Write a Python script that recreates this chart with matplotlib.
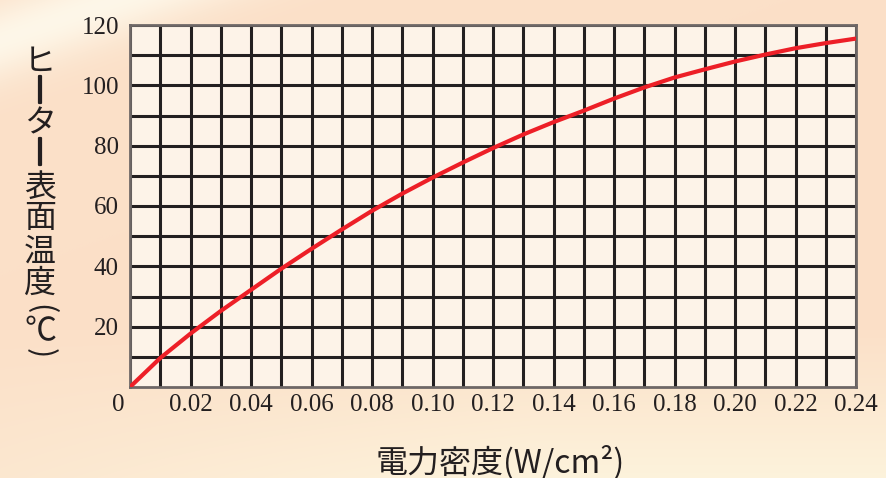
import numpy as np
import matplotlib.pyplot as plt
import matplotlib.patheffects as pe
from matplotlib.transforms import ScaledTranslation

# heater surface temperature vs. power density
power = [0.00, 0.01, 0.02, 0.03, 0.04, 0.05, 0.06, 0.07, 0.08, 0.09, 0.10, 0.11, 0.12,
         0.13, 0.14, 0.15, 0.16, 0.17, 0.18, 0.19, 0.20, 0.21, 0.22, 0.23, 0.24]
temp = [0, 9.6, 17.7, 25.2, 32.2, 39.2, 45.8, 52.2, 58.4, 64.1, 69.4, 74.4, 79.2,
        83.7, 87.8, 91.6, 95.6, 99.3, 102.6, 105.3, 107.9, 110.2, 112.3, 114.0, 115.5]

x_major = [0, 0.02, 0.04, 0.06, 0.08, 0.10, 0.12, 0.14, 0.16, 0.18, 0.20, 0.22, 0.24]
x_labels = ['0', '0.02', '0.04', '0.06', '0.08', '0.10', '0.12', '0.14', '0.16',
            '0.18', '0.20', '0.22', '0.24']
y_major = [20, 40, 60, 80, 100, 120]
y_labels = ['20', '40', '60', '80', '100', '120']

# vertical y label "ヒーター表面温度(℃)", one glyph at a time
ylabel_chars = ['ヒ', '｜', 'タ', '｜', '表', '面', '温', '度', '(', '℃', ')']
ylabel_rot = [0, 0, 0, 0, 0, 0, 0, 0, 270, 0, 270]
ylabel_ypix = [62, 92, 123, 154, 188, 218, 252, 284, 309, 331, 353]
xlabel = '電力密度(W/cm²)'

W, H = 886, 478
fig = plt.figure(figsize=(W / 100, H / 100), dpi=100)

# soft peach background with a light streak top-left
bg = fig.add_axes([0, 0, 1, 1])
bg.axis('off')
yy, xx = np.mgrid[0:H, 0:W]
peach = np.array([251, 224, 200]) / 255
light = np.array([254, 248, 234]) / 255
cream = np.array([253, 243, 220]) / 255
d = xx * 0.35 + yy
streak = np.exp(-((d - 40) ** 2) / (2 * 28 ** 2)) * 0.95
bottom = np.clip((yy - 330) / 150, 0, 1) * np.clip(0.4 + xx / W, 0, 1)
img = peach[None, None, :] * np.ones((H, W, 1))
img = img * (1 - bottom[..., None]) + cream * bottom[..., None]
img = img * (1 - streak[..., None]) + light * streak[..., None]
bg.imshow(img, aspect='auto', extent=[0, 1, 0, 1], origin='upper')
bg.set_xlim(0, 1)
bg.set_ylim(0, 1)

ax = fig.add_axes([130 / W, (H - 387) / H, (856 - 130) / W, (387 - 25) / H])
ax.set_facecolor('#fdf3e8')
ax.set_xlim(0, 0.24)
ax.set_ylim(0, 120)

ax.set_xticks(x_major)
ax.set_xticks(power, minor=True)
ax.set_xticklabels(x_labels, family='Liberation Serif', fontsize=18, color='#231f20')
ax.set_yticks(y_major)
ax.set_yticks(list(range(10, 120, 10)), minor=True)
ax.set_yticklabels(y_labels, family='Liberation Serif', fontsize=18, color='#231f20')
ax.tick_params(which='both', length=0)
ax.tick_params(axis='x', pad=5)
ax.tick_params(axis='y', pad=8)

lab0 = ax.get_xticklabels()[0]
lab0.set_transform(lab0.get_transform() + ScaledTranslation(-0.12, 0, fig.dpi_scale_trans))

ax.grid(which='both', color='#231f20', linewidth=2.2)
ax.set_axisbelow(True)
for s in ax.spines.values():
    s.set_color('#6e6766')
    s.set_linewidth(2)

ax.plot(power, temp, color='#ed1f27', linewidth=3, solid_capstyle='round', zorder=5)

cjk = ['Noto Sans CJK JP', 'DejaVu Sans']
for ch, rot, yp in zip(ylabel_chars, ylabel_rot, ylabel_ypix):
    effects = None
    if ch in '()':
        size = 22
    elif ch == '｜':
        size = 19
        effects = [pe.withStroke(linewidth=1.6, foreground='#231f20')]
    else:
        size = 23
    fig.text(40 / W, 1 - yp / H, ch, rotation=rot, ha='center', va='center',
             rotation_mode='anchor', family=cjk, fontsize=size,
             color='#231f20', path_effects=effects)

fig.text(500 / W, 1 - 462 / H, xlabel, ha='center', va='center',
         family=cjk, fontsize=23, color='#231f20')

fig.savefig('out.png', dpi=100)
